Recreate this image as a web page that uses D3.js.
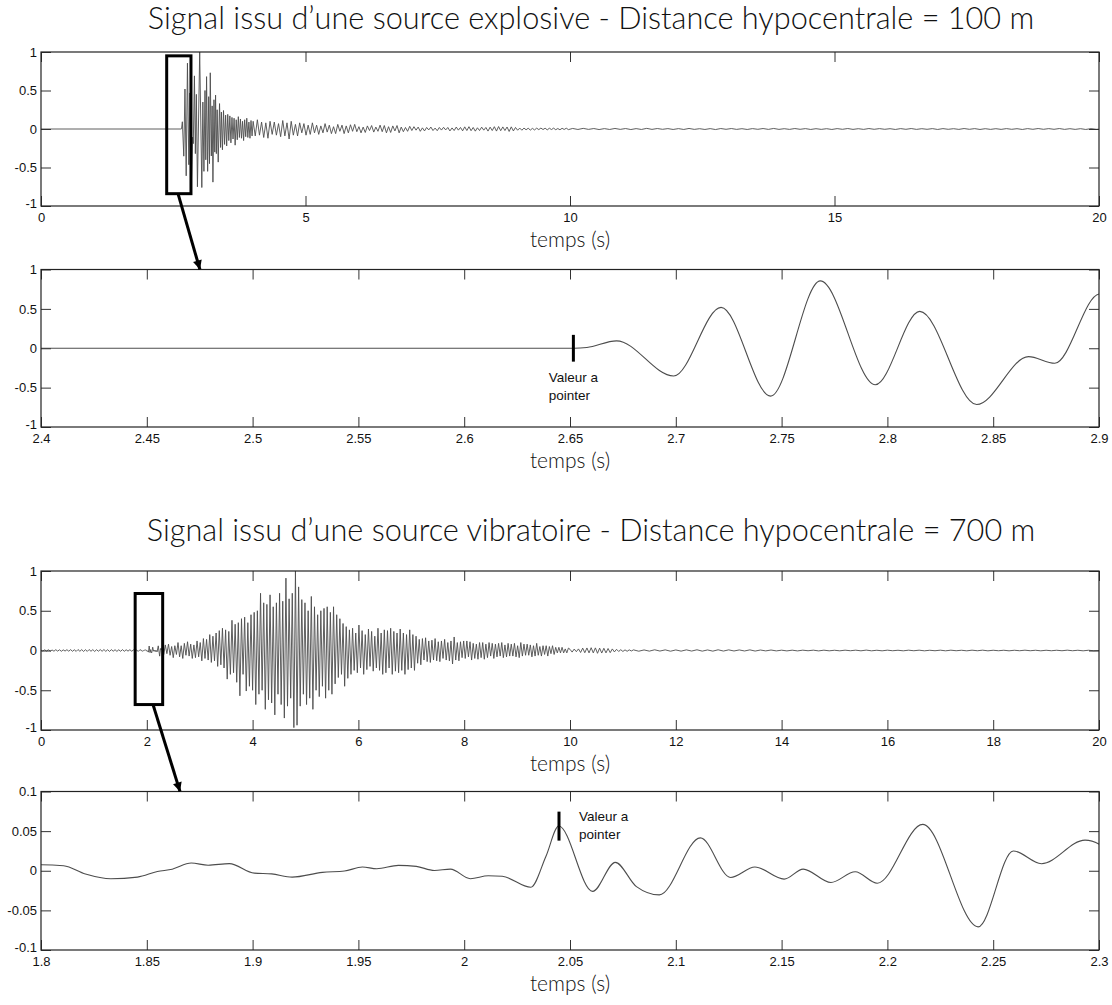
<!DOCTYPE html>
<html><head><meta charset="utf-8">
<script src="https://cdn.jsdelivr.net/npm/d3@7"></script>
<style>
body{margin:0;background:#fff;}
svg{display:block;}
.tick text{font-family:"Liberation Sans",Arial,Helvetica,sans-serif;font-size:13px;fill:#111;}
.title,.xlab{font-family:"Lato","Open Sans",sans-serif;font-weight:300;fill:#111;}
.note{font-family:"Liberation Sans",Arial,sans-serif;font-size:13.5px;fill:#111;}
</style></head><body>
<svg id="chart" width="1112" height="1005"></svg>
<script>
// ================= DATA =================
const titles = [
  "Signal issu d’une source explosive - Distance hypocentrale = 100 m",
  "Signal issu d’une source vibratoire - Distance hypocentrale = 700 m"
];
const xLabel = "temps (s)";
const noteLines = ["Valeur a", "pointer"];

// tick labels
const ticksX20by5 = [0, 5, 10, 15, 20];
const ticksX20by2 = [0, 2, 4, 6, 8, 10, 12, 14, 16, 18, 20];
const ticksXExplosiveZoom = [2.4, 2.45, 2.5, 2.55, 2.6, 2.65, 2.7, 2.75, 2.8, 2.85, 2.9];
const ticksXVibratoryZoom = [1.8, 1.85, 1.9, 1.95, 2, 2.05, 2.1, 2.15, 2.2, 2.25, 2.3];
const ticksYUnit = [-1, -0.5, 0, 0.5, 1];
const ticksYSmall = [-0.1, -0.05, 0, 0.05, 0.1];

// ---- explosive source (100 m) ----
const explosiveQuietT = [0, 2.652];
const explosiveQuietV = [0, 0];
const explosiveOnsetT = [2.658, 2.672, 2.699, 2.7214, 2.7448, 2.7683, 2.7943, 2.8153, 2.8422, 2.8667, 2.8791, 2.9003];
const explosiveOnsetV = [0.01, 0.094, -0.353, 0.519, -0.608, 0.855, -0.464, 0.468, -0.715, -0.106, -0.19, 0.69];
const explosiveBurstT = [2.918, 2.937, 2.957, 3.0, 3.04, 3.06, 3.08, 3.10, 3.115, 3.13, 3.15, 3.17, 3.185, 3.20, 3.22, 3.235,
  3.25, 3.27, 3.285, 3.30, 3.315, 3.33, 3.35, 3.375, 3.395, 3.41, 3.43, 3.45, 3.47, 3.49, 3.51, 3.53, 3.55, 3.57, 3.59, 3.61,
  3.63, 3.65, 3.67, 3.69, 3.71, 3.73, 3.75, 3.77, 3.79, 3.81, 3.83, 3.85, 3.87, 3.89, 3.91, 3.93, 3.95, 3.97, 3.99];
const explosiveBurstV = [-0.32, 0.45, -0.75, 1.0, -0.76, 0.35, -0.55, 0.5, -0.4, 0.68, -0.55, 0.42, -0.45, 0.73, -0.35, 0.3,
  -0.69, 0.38, -0.3, 0.44, -0.32, 0.25, -0.43, 0.33, -0.24, 0.22, -0.27, 0.24, -0.2, 0.18, -0.22, 0.19, -0.15, 0.17, -0.18, 0.15,
  -0.13, 0.14, -0.21, 0.12, -0.14, 0.16, -0.11, 0.13, -0.12, 0.1, -0.15, 0.12, -0.1, 0.14, -0.11, 0.09, -0.12, 0.11, -0.09];
const explosiveCodaStart = 4.01, explosiveCodaStep = 0.04;
const explosiveCodaV = [
  .1,-.09,.12,-.08,.09,-.11,.08,-.12,.1,-.07,
  .09,-.08,.07,-.1,.11,-.09,.08,-.13,.1,-.08,
  .06,-.09,.08,-.05,.07,-.08,.05,-.07,.08,-.05,
  .05,-.07,.04,-.05,.07,-.04,.05,-.06,.03,-.06,
  .06,-.03,.05,-.06,.04,-.05,.055,-.03,.06,-.035,
  .03,-.05,.025,-.045,.04,-.02,.045,-.04,.025,-.03,
  .05,-.035,.045,-.05,.03,-.045,.04,-.025,.045,-.05,
  .025,-.035,.02,-.03,.035,-.02,.03,-.015,.025,-.03,
  .015,-.025,.02,-.012,.025,-.02,.012,-.022,.02,-.014,
  .022,-.012,.02,-.025,.014,-.02,.025,-.015,.02,-.024,
  .028,-.02,.03,-.022,.02,-.028,.016,-.02,.024,-.015,
  .02,-.027,.024,-.02,.03,-.027,.032,-.022,.027,-.02,
  .026,-.032,.028,-.025,.02,-.016,.012,-.016,.012,-.01,
  .01,-.014,.008,-.012,.011,-.008,.012,-.007,.01,-.011,
  .01,-.007,.011,-.009,.006,-.01,.009,-.006,.01,-.008];
const explosiveTailStart = 10.05, explosiveTailStep = 0.1;
const explosiveTailV = [
  .007,-.006,.008,-.005,.006,-.007,.005,-.006,.007,-.005,
  .006,-.007,.005,-.006,.008,-.005,.006,-.004,.005,-.006,
  .005,-.006,.007,-.005,.004,-.006,.005,-.007,.006,-.004,
  .006,-.005,.004,-.006,.005,-.004,.006,-.005,.007,-.005,
  .004,-.005,.006,-.004,.005,-.006,.004,-.005,.004,-.006,
  .005,-.004,.006,-.005,.004,-.005,.006,-.004,.005,-.004,
  .004,-.006,.005,-.004,.006,-.005,.004,-.004,.005,-.006,
  .005,-.004,.004,-.005,.006,-.004,.005,-.006,.004,-.005,
  .004,-.005,.005,-.004,.004,-.006,.005,-.004,.006,-.004,
  .005,-.004,.006,-.005,.004,-.005,.004,-.006,.005,-.004, 0];

// ---- vibratory source (700 m) ----
const vibratoryPreStart = 0, vibratoryPreStep = 0.035;
const vibratoryPreV = [
  .004,-.006,.008,-.007,.009,-.008,.006,-.009,.01,-.008,
  .009,-.01,.008,-.007,.01,-.009,.011,-.01,.009,-.011,
  .012,-.01,.011,-.012,.01,-.011,.012,-.01,.011,-.012,
  .01,-.009,.011,-.01,.012,-.011,.01,-.012,.011,-.009,
  .01,-.011,.009,-.01,.011,-.01,.009,-.008,.01,-.009,
  .008,-.004];
const vibratoryZoomT = [1.8, 1.8107, 1.821, 1.833, 1.8456, 1.855, 1.862, 1.871, 1.879, 1.889, 1.9008, 1.909, 1.9187,
  1.933, 1.9434, 1.9519, 1.9587, 1.9689, 1.9774, 1.9859, 1.9935, 2.0029, 2.0114, 2.018, 2.0315, 2.0386, 2.0447,
  2.0607, 2.0714, 2.0814, 2.0922, 2.1116, 2.1259, 2.1374, 2.1512, 2.1602, 2.1733, 2.1848, 2.1952, 2.2167, 2.2429,
  2.2595, 2.2728, 2.2934, 2.3003];
const vibratoryZoomV = [0.0076, 0.0064, -0.004, -0.010, -0.008, -0.001, 0.002, 0.0097, 0.007, 0.009, -0.003, -0.004, -0.008,
  -0.002, -0.0004, 0.0047, 0.0025, 0.0068, 0.0055, 0.0004, 0.002, -0.010, -0.0064, -0.007, -0.0208, 0.018, 0.0564,
  -0.026, 0.0106, -0.020, -0.0305, 0.0415, -0.0085, 0.0047, -0.0106, 0.0021, -0.0148, -0.0013, -0.0157, 0.0585, -0.0708,
  0.025, 0.0089, 0.0386, 0.033];
const vibratoryBuildStart = 2.32, vibratoryBuildStep = 0.03;
const vibratoryBuildV = [
  -.05,.07,-.04,.08,-.06,.05,-.09,.06,-.05,.1,
  -.08,.06,-.1,.09,-.06,.11,-.07,.08,-.1,.07,
  -.09,.12,-.08,.1,-.13,.15,-.1,.14,-.12,.2,
  -.15,.18,-.13,.22,-.2,.25,-.18,.28,-.22,.26,
  -.36,.24,-.3,.38,-.28,.33,-.4,.35,-.57,.4,
  -.3,.42,-.51,.35,-.45,.45,-.5,.48,-.68,.5,
  -.55,.72,-.5,.6,-.74,.58,-.62,.7,-.66,.55,
  -.81,.6,-.55,.72,-.68,.62,-.85,.91,-.7,.65,
  -.6,.72,-.97,1.0,-.94,.8,-.7,.64,-.55,.6,
  -.68,.5,-.6,.68,-.74,.55,-.5,.45,-.58,.5,
  -.45,.53,-.6,.55,-.5,.48,-.55,.55,-.42,.45,
  -.34,.4,-.3,.34,-.45,.3,-.35,.26,-.3,.28,
  -.25,.22,-.28,.32,-.22,.25,-.3,.2,-.24,.27,
  -.2,.24,-.26,.18,-.22,.28,-.25,.22,-.3,.26,
  -.28,.25,-.22,.28,-.3,.24,-.26,.22,-.28,.27,
  -.25,.22,-.3,.2,-.24,.26,-.22,.2,-.25,.18,
  -.16,.14,-.18,.15,-.12,.16,-.14,.12,-.15,.13,
  -.12,.15,-.13,.11,-.14,.12,-.1,.14,-.12,.1,
  -.13,.12,-.17,.17,-.12,.1,-.13,.11,-.09,.12,
  -.1,.12,-.08,.11,-.12,.09,-.1,.08,-.11,.1,
  -.09,.1,-.11,.08,-.09,.1,-.07,.09,-.1,.08,
  -.08,.09,-.07,.1,-.09,.07,-.08,.09,-.07,.08,
  -.07,.09,-.08,.06,-.09,.1,-.07,.08,-.06,.08,
  -.06,.07,-.08,.06,-.07,.09,-.06,.05,-.07,.06,
  -.05,.06,-.07,.05,-.04,.06,-.05,.04,-.03,.04,
  -.03,.04,-.03,.02,-.03,.03];
const vibratoryDecayStart = 10.0, vibratoryDecayStep = 0.04;
const vibratoryDecayV = [.015,-.02,.018,-.015,.02,-.025,.03,-.028,.032,-.03,.035,-.03,.033,-.035,.03,
  -.032,.028,-.03,.025,-.027,.02,-.018,.015,-.012,.01,-.012,.008,-.01,.008,-.006];
const vibratoryTailStart = 11.2, vibratoryTailStep = 0.1;
const vibratoryTailV = [
  .008,-.009,.007,-.008,.009,-.007,.008,-.009,.007,-.008,
  .008,-.007,.009,-.008,.007,-.008,.009,-.007,.008,-.006,
  .007,-.006,.008,-.007,.006,-.005,.006,-.005,.004,-.005,
  .004,-.005,.004,-.003,.004,-.005,.004,-.004,.003,-.004,
  .004,-.003,.004,-.004,.005,-.004,.003,-.004,.004,-.003,
  .003,-.004,.004,-.003,.004,-.004,.003,-.003,.004,-.004,
  .004,-.003,.003,-.004,.004,-.003,.004,-.004,.003,-.003,
  .003,-.004,.003,-.003,.004,-.003,.003,-.004,.003,-.003,
  .003,-.003,.004,-.003,.003,-.004,.003,-.003,0];

// annotation marks (data units)
const explosiveBox = {t: [2.376, 2.835], v: [0.95, -0.84]};
const vibratoryBox = {t: [1.78, 2.30], v: [0.717, -0.68]};
const explosiveArrow = {from: [2.59, -0.84], to: [2.4751, 1]};
const vibratoryArrow = {from: [2.117, -0.68], to: [1.8657, 0.1]};
const explosivePick = {t: 2.6516, v: [0.17, -0.17], textT: 2.64, textV: [-0.374, -0.596]};
const vibratoryPick = {t: 2.0448, v: [0.0746, 0.038], textT: 2.0543, textV: [0.069, 0.0466]};

// ================= BUILD =================
const paired = (ts, vs) => ts.map((t, i) => [t, vs[i]]);
const sampled = (start, step, vs) => vs.map((v, i) => [start + i * step, v]);

const explosiveSeries = [
  ...paired(explosiveQuietT, explosiveQuietV),
  ...paired(explosiveOnsetT, explosiveOnsetV),
  ...paired(explosiveBurstT, explosiveBurstV),
  ...sampled(explosiveCodaStart, explosiveCodaStep, explosiveCodaV),
  ...sampled(explosiveTailStart, explosiveTailStep, explosiveTailV)
];
const vibratorySeries = [
  ...sampled(vibratoryPreStart, vibratoryPreStep, vibratoryPreV),
  ...paired(vibratoryZoomT, vibratoryZoomV),
  ...sampled(vibratoryBuildStart, vibratoryBuildStep, vibratoryBuildV),
  ...sampled(vibratoryDecayStart, vibratoryDecayStep, vibratoryDecayV),
  ...sampled(vibratoryTailStart, vibratoryTailStep, vibratoryTailV)
];

const L = 41, R = 1099;
const panels = [
  {top: 52,    bottom: 206, xd: [0, 20],     yd: [-1, 1],     xt: ticksX20by5,         yt: ticksYUnit,  series: explosiveSeries, curve: d3.curveLinear, sw: 0.9},
  {top: 269.5, bottom: 427, xd: [2.4, 2.9],  yd: [-1, 1],     xt: ticksXExplosiveZoom, yt: ticksYUnit,  series: explosiveSeries, curve: d3.curveMonotoneX, sw: 1.1},
  {top: 571,   bottom: 730, xd: [0, 20],     yd: [-1, 1],     xt: ticksX20by2,         yt: ticksYUnit,  series: vibratorySeries, curve: d3.curveLinear, sw: 0.9},
  {top: 791.5, bottom: 950, xd: [1.8, 2.3],  yd: [-0.1, 0.1], xt: ticksXVibratoryZoom, yt: ticksYSmall, series: vibratorySeries, curve: d3.curveMonotoneX, sw: 1.1}
];

const svg = d3.select("#chart");
svg.append("rect").attr("width", 1112).attr("height", 1005).attr("fill", "#fff");

const defs = svg.append("defs");
defs.append("marker").attr("id", "arrowhead").attr("viewBox", "0 0 10 10")
  .attr("refX", 10).attr("refY", 5).attr("markerWidth", 12).attr("markerHeight", 9)
  .attr("markerUnits", "userSpaceOnUse").attr("orient", "auto")
  .append("path").attr("d", "M0,0 L10,5 L0,10 z").attr("fill", "#000");

const fmt = d => String(d);

panels.forEach((p, i) => {
  p.x = d3.scaleLinear().domain(p.xd).range([L, R]);
  p.y = d3.scaleLinear().domain(p.yd).range([p.bottom, p.top]);
  const g = svg.append("g");
  defs.append("clipPath").attr("id", "clip" + i).append("rect")
    .attr("x", L).attr("y", p.top).attr("width", R - L).attr("height", p.bottom - p.top);

  // signal
  const line = d3.line().x(d => p.x(d[0])).y(d => p.y(d[1])).curve(p.curve);
  g.append("path").datum(p.series).attr("clip-path", `url(#clip${i})`)
    .attr("d", line).attr("fill", "none").attr("stroke", "#4d4d4d").attr("stroke-width", p.sw)
    .attr("stroke-linejoin", "round");

  // axes (inward ticks on four sides)
  const tl = 10;
  const ax = (gen, tr, labels) => {
    const a = g.append("g").attr("transform", tr).call(gen);
    a.select(".domain").remove();
    a.selectAll(".tick line").attr("stroke", "#333").attr("stroke-width", 1);
    if (!labels) a.selectAll(".tick text").remove();
    return a;
  };
  ax(d3.axisBottom(p.x).tickValues(p.xt).tickFormat(fmt).tickSizeInner(-tl).tickSizeOuter(0).tickPadding(7),
     `translate(0,${p.bottom})`, true);
  ax(d3.axisTop(p.x).tickValues(p.xt).tickSizeInner(-tl).tickSizeOuter(0), `translate(0,${p.top})`, false);
  const yl = ax(d3.axisLeft(p.y).tickValues(p.yt).tickFormat(fmt).tickSizeInner(-tl).tickSizeOuter(0).tickPadding(4),
     `translate(${L},0)`, true);
  // the lowest y label sits just above the x labels, as in the original
  yl.selectAll(".tick text").filter(d => d === p.yd[0]).attr("dy", "0.1em");
  ax(d3.axisRight(p.y).tickValues(p.yt).tickSizeInner(-tl).tickSizeOuter(0), `translate(${R},0)`, false);

  g.append("rect").attr("x", L).attr("y", p.top).attr("width", R - L).attr("height", p.bottom - p.top)
    .attr("fill", "none").attr("stroke", "#222").attr("stroke-width", 1.2);

  g.append("text").attr("class", "xlab").attr("x", 570).attr("y", p.bottom + 41)
    .attr("text-anchor", "middle").attr("font-size", 21).text(xLabel);
});

// titles
const titleY = [29, 541];
const tt = titles.map((t, i) => svg.append("text").attr("class", "title")
  .attr("x", 591).attr("y", titleY[i]).attr("text-anchor", "middle").attr("font-size", 100).text(t));
const fit = 100 * 887 / tt[0].node().getComputedTextLength();
tt.forEach(t => t.attr("font-size", fit));

// zoom boxes and arrows
function boxAndArrow(src, dst, box, arrow) {
  svg.append("rect")
    .attr("x", src.x(box.t[0])).attr("y", src.y(box.v[0]))
    .attr("width", src.x(box.t[1]) - src.x(box.t[0])).attr("height", src.y(box.v[1]) - src.y(box.v[0]))
    .attr("fill", "none").attr("stroke", "#000").attr("stroke-width", 3);
  svg.append("line")
    .attr("x1", src.x(arrow.from[0])).attr("y1", src.y(arrow.from[1]))
    .attr("x2", dst.x(arrow.to[0])).attr("y2", dst.y(arrow.to[1]))
    .attr("stroke", "#000").attr("stroke-width", 3).attr("marker-end", "url(#arrowhead)");
}
boxAndArrow(panels[0], panels[1], explosiveBox, explosiveArrow);
boxAndArrow(panels[2], panels[3], vibratoryBox, vibratoryArrow);

// picking marks
function pick(p, m) {
  svg.append("line").attr("x1", p.x(m.t)).attr("x2", p.x(m.t))
    .attr("y1", p.y(m.v[0])).attr("y2", p.y(m.v[1]))
    .attr("stroke", "#000").attr("stroke-width", 3);
  noteLines.forEach((s, k) => svg.append("text").attr("class", "note")
    .attr("x", p.x(m.textT)).attr("y", p.y(m.textV[k])).attr("dy", "0.35em").text(s));
}
pick(panels[1], explosivePick);
pick(panels[3], vibratoryPick);
</script>
</body></html>
